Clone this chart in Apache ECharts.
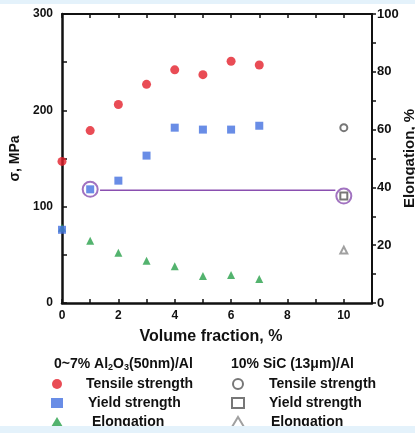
<!DOCTYPE html>
<html>
<head>
<meta charset="utf-8">
<script src="https://cdn.jsdelivr.net/npm/echarts@6/dist/echarts.min.js"></script>
<style>
html,body{margin:0;padding:0;background:#fff;}
#c{width:415px;height:433px;}
.band{position:absolute;left:0;width:415px;background:#e4f2fb;}
</style>
</head>
<body>
<div class="band" style="top:0;height:4px;"></div>
<div id="c"></div>
<div class="band" style="top:426px;height:7px;"></div>
<script>
// Al2O3 (50nm)/Al composites, 0~7 vol%
const fractions = [0, 1, 2, 3, 4, 5, 6, 7];
const tensile = [147, 179, 206, 227, 242, 237, 251, 247];
const yieldStr = [76, 118, 127, 153, 182, 180, 180, 184];
const elongation = [26, 21.5, 17.4, 14.6, 12.7, 9.3, 9.7, 8.3];
// 10% SiC (13um)/Al
const sicFraction = [10];
const sicTensile = [182];
const sicYield = [111];
const sicElongation = [18.3];
// highlighted comparison (yield strength) and connector
const highlightX = [1, 10];
const highlightY = [118, 111];
const connectorX = [1.35, 9.7];
const connectorY = [117, 117];
const xTicks = [0, 2, 4, 6, 8, 10];

const F = 'Liberation Sans, Arial, sans-serif';
const pairs = (xs, ys) => xs.map((x, i) => [x, ys[i]]);
const strip = n => n.replace(' (SiC)', '');
const pad = p => ({textStyle: {padding: [0, 0, 0, p]}});

const chart = echarts.init(document.getElementById('c'));
chart.setOption({
  backgroundColor: 'transparent',
  animation: false,
  title: [
    {text: '0~7% Al{s|2}O{s|3}(50nm)/Al', left: 54, top: 356, padding: 0,
     textStyle: {fontFamily: F, fontWeight: 'bold', fontSize: 14, color: '#111',
       rich: {s: {fontFamily: F, fontWeight: 'bold', fontSize: 9, color: '#111', padding: [7, 0, 0, 0]}}}},
    {text: '10% SiC (13\u03bcm)/Al', left: 231, top: 357, padding: 0,
     textStyle: {fontFamily: F, fontWeight: 'bold', fontSize: 14, color: '#111'}}
  ],
  legend: [
    {data: [
       Object.assign({name: 'Tensile strength'}, pad(18)),
       Object.assign({name: 'Yield strength'}, pad(20)),
       Object.assign({name: 'Elongation'}, pad(24))],
     orient: 'vertical', left: 51, top: 377, height: 60, padding: 0,
     itemWidth: 12, itemHeight: 10, itemGap: 5,
     textStyle: {fontFamily: F, fontWeight: 'bold', fontSize: 14, color: '#111'}},
    {data: [
       Object.assign({name: 'Tensile strength (SiC)'}, pad(20)),
       Object.assign({name: 'Yield strength (SiC)'}, pad(20)),
       Object.assign({name: 'Elongation (SiC)'}, pad(22))],
     orient: 'vertical', left: 231, top: 377, height: 60, padding: 0,
     itemWidth: 12, itemHeight: 10, itemGap: 5, formatter: strip,
     textStyle: {fontFamily: F, fontWeight: 'bold', fontSize: 14, color: '#111'}}
  ],
  grid: {left: 62, right: 43, top: 14, bottom: 130, containLabel: false, outerBoundsMode: 'none'},
  xAxis: [
    {type: 'value', min: 0, max: 11, interval: 1, position: 'bottom',
     name: 'Volume fraction, %', nameLocation: 'middle', nameGap: 26,
     nameTextStyle: {fontFamily: F, fontWeight: 'bold', fontSize: 16, color: '#111', padding: [0, 12, 0, 0]},
     axisLine: {show: true, onZero: false, lineStyle: {color: '#111', width: 2.5}},
     axisTick: {inside: true, length: 4, lineStyle: {color: '#111', width: 1.5}},
     axisLabel: {margin: 7, fontFamily: F, fontWeight: 'bold', fontSize: 12, color: '#111',
       formatter: v => xTicks.indexOf(v) >= 0 ? String(v) : ''},
     splitLine: {show: false}},
    {type: 'value', min: 0, max: 11, interval: 1, position: 'top',
     axisLine: {show: true, onZero: false, lineStyle: {color: '#111', width: 2}},
     axisTick: {inside: true, length: 4, lineStyle: {color: '#111', width: 1.5}},
     axisLabel: {show: false}, splitLine: {show: false}}
  ],
  yAxis: [
    {type: 'value', min: 0, max: 300, interval: 100, position: 'left',
     name: '\u03c3, MPa', nameLocation: 'middle', nameGap: 36, nameRotate: 90,
     nameTextStyle: {fontFamily: F, fontWeight: 'bold', fontSize: 14, color: '#111'},
     axisLine: {show: true, onZero: false, lineStyle: {color: '#111', width: 2.5}},
     axisTick: {inside: true, length: 5, lineStyle: {color: '#111', width: 1.5}},
     minorTick: {show: true, splitNumber: 2, length: 5, lineStyle: {color: '#111', width: 1.5}},
     axisLabel: {margin: 9, fontFamily: F, fontWeight: 'bold', fontSize: 12, color: '#111'},
     splitLine: {show: false}, minorSplitLine: {show: false}},
    {type: 'value', min: 0, max: 100, interval: 20, position: 'right',
     name: 'Elongation, %', nameLocation: 'middle', nameGap: 30, nameRotate: 90, nameMoveOverlap: false,
     nameTextStyle: {fontFamily: F, fontWeight: 'bold', fontSize: 15, color: '#111'},
     axisLine: {show: true, onZero: false, lineStyle: {color: '#111', width: 2}},
     axisTick: {inside: false, length: 4, lineStyle: {color: '#111', width: 1.5}},
     minorTick: {show: true, splitNumber: 2, length: 4, lineStyle: {color: '#111', width: 1.5}},
     axisLabel: {margin: 5, fontFamily: F, fontWeight: 'bold', fontSize: 13, color: '#111'},
     splitLine: {show: false}, minorSplitLine: {show: false}}
  ],
  series: [
    {name: 'connector', type: 'line', data: pairs(connectorX, connectorY), symbol: 'none',
     lineStyle: {color: '#8a4fb0', width: 1.5}, z: 1, legendHoverLink: false},
    {name: 'highlight', type: 'scatter', data: pairs(highlightX, highlightY), symbol: 'emptyCircle',
     symbolSize: 15, itemStyle: {color: '#8a4fb0', borderColor: '#8a4fb0', borderWidth: 1.5}, z: 1},
    {name: 'Elongation', type: 'scatter', yAxisIndex: 1, data: pairs(fractions, elongation),
     symbol: 'triangle', symbolSize: 8, itemStyle: {color: '#28a04a'}, clip: false, z: 3},
    {name: 'Yield strength', type: 'scatter', data: pairs(fractions, yieldStr),
     symbol: 'rect', symbolSize: 8, itemStyle: {color: '#4470e0'}, clip: false, z: 4},
    {name: 'Tensile strength', type: 'scatter', data: pairs(fractions, tensile),
     symbol: 'circle', symbolSize: 9, itemStyle: {color: '#e41f2a'}, clip: false, z: 4},
    {name: 'Tensile strength (SiC)', type: 'scatter', data: pairs(sicFraction, sicTensile),
     symbol: 'emptyCircle', symbolSize: 7, itemStyle: {color: '#555', borderWidth: 1}, z: 4},
    {name: 'Yield strength (SiC)', type: 'scatter', data: pairs(sicFraction, sicYield),
     symbol: 'emptyRect', symbolSize: 7, itemStyle: {color: '#555', borderWidth: 1}, z: 4},
    {name: 'Elongation (SiC)', type: 'scatter', yAxisIndex: 1, data: pairs(sicFraction, sicElongation),
     symbol: 'emptyTriangle', symbolSize: 7, itemStyle: {color: '#888', borderWidth: 1}, z: 4}
  ]
});
</script>
</body>
</html>
